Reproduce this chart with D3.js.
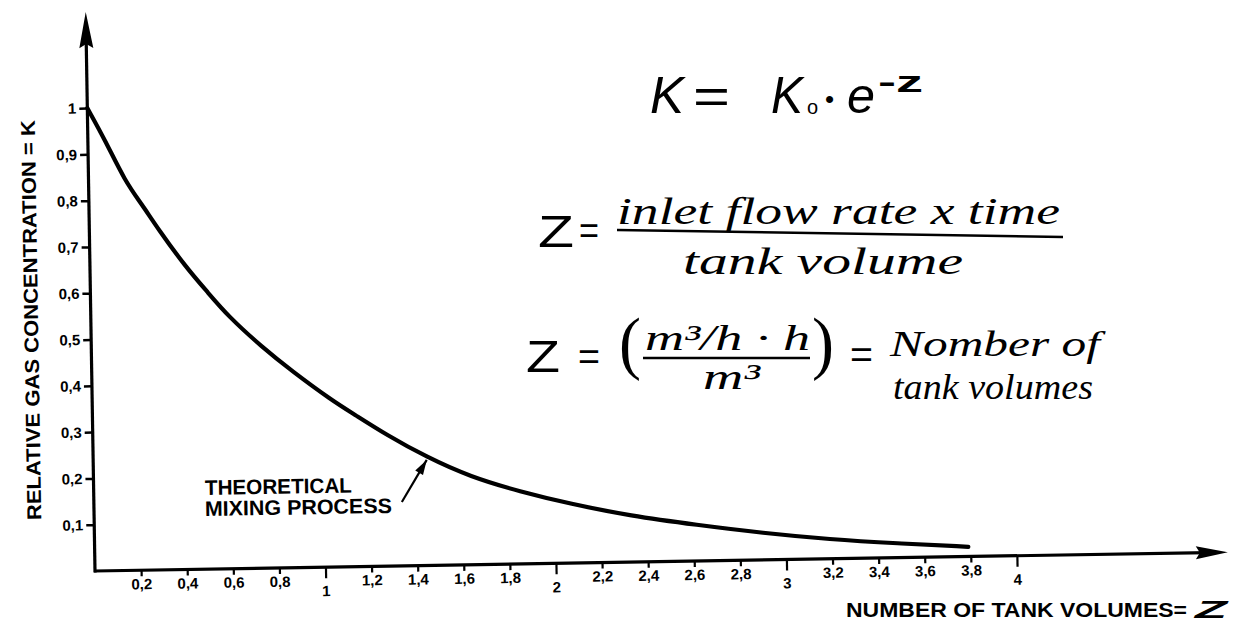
<!DOCTYPE html>
<html><head><meta charset="utf-8">
<script src="https://cdn.jsdelivr.net/npm/d3@7"></script>
<style>
html,body{margin:0;padding:0;background:#fff;}
svg{display:block;}
</style></head><body>
<svg id="chart" width="1238" height="622"></svg>
<script>
// ---- data ----
const zValues = [0, 0.075, 0.159, 0.23, 0.3, 0.413, 0.512, 0.597, 0.74, 0.868, 1.04, 1.133, 1.276, 1.447, 1.634, 1.85, 2.066, 2.326, 2.614, 2.9, 3.19, 3.48, 3.79];
const kValues = [1.0, 0.93, 0.84, 0.79, 0.735, 0.655, 0.596, 0.545, 0.478, 0.425, 0.36, 0.33, 0.283, 0.234, 0.19, 0.156, 0.128, 0.1, 0.078, 0.058, 0.042, 0.031, 0.021];
const yTicks = [0.1, 0.2, 0.3, 0.4, 0.5, 0.6, 0.7, 0.8, 0.9, 1];
const yTickLabels = ["0,1", "0,2", "0,3", "0,4", "0,5", "0,6", "0,7", "0,8", "0,9", "1"];
const xTicks = [0.2, 0.4, 0.6, 0.8, 1, 1.2, 1.4, 1.6, 1.8, 2, 2.2, 2.4, 2.6, 2.8, 3, 3.2, 3.4, 3.6, 3.8, 4];
const xTickLabels = ["0,2", "0,4", "0,6", "0,8", "1", "1,2", "1,4", "1,6", "1,8", "2", "2,2", "2,4", "2,6", "2,8", "3", "3,2", "3,4", "3,6", "3,8", "4"];
const yAxisTitle = "RELATIVE GAS CONCENTRATION = K";
const xAxisTitle = "NUMBER OF TANK VOLUMES=";
const xAxisSymbol = "Z";
const curveLabel = ["THEORETICAL", "MIXING PROCESS"];
const annotationTip = [1.447, 0.228];
const annotationTail = [1.336, 0.138];

// ---- layout ----
const svg = d3.select("#chart");
const origin = [95, 571];
const tilt = -0.95;
const x = d3.scaleLinear().domain([0, 4]).range([0, 922]);
const y = d3.scaleLinear().domain([0, 1]).range([0, -463]);
const sansB = "'Liberation Sans', Arial, sans-serif";
const hand = "'Liberation Serif', 'DejaVu Serif', serif";

const g = svg.append("g").attr("transform", `translate(${origin[0]},${origin[1]}) rotate(${tilt})`);

// y axis ticks
const yAxis = d3.axisLeft(y).tickValues(yTicks).tickSize(8).tickPadding(3)
  .tickFormat((d, i) => yTickLabels[i]);
const gy = g.append("g").call(yAxis);
gy.select(".domain").remove();
gy.selectAll(".tick line").attr("stroke", "#000").attr("stroke-width", 2.5);
gy.selectAll(".tick text").attr("fill", "#000").attr("font-family", sansB)
  .attr("font-weight", "bold").attr("font-size", 15).attr("dy", "0.33em");

// x axis ticks
const xAxis = d3.axisBottom(x).tickValues(xTicks).tickSize(6)
  .tickFormat((d, i) => xTickLabels[i]);
const gx = g.append("g").call(xAxis);
gx.select(".domain").remove();
gx.selectAll(".tick line").attr("stroke", "#000").attr("stroke-width", 2.2)
  .attr("y2", d => Number.isInteger(d) ? 11 : 6);
gx.selectAll(".tick text").attr("fill", "#000").attr("font-family", sansB)
  .attr("font-weight", "bold").attr("font-size", 15).attr("dy", 0)
  .attr("y", d => Number.isInteger(d) ? 29 : 19);

// axis lines with arrows
const xEnd = 1133, yEnd = -559;
g.append("line").attr("x1", -1).attr("y1", 0).attr("x2", xEnd - 20).attr("y2", 0)
  .attr("stroke", "#000").attr("stroke-width", 3.2);
g.append("path").attr("d", `M${xEnd},0 L${xEnd - 32},-6.5 L${xEnd - 28},0 L${xEnd - 32},6.5 Z`).attr("fill", "#000");
g.append("line").attr("x1", 0).attr("y1", 1.5).attr("x2", 0).attr("y2", yEnd + 20)
  .attr("stroke", "#000").attr("stroke-width", 3.2);
g.append("path").attr("d", `M0,${yEnd} L-7,${yEnd + 36} L0,${yEnd + 32} L7,${yEnd + 36} Z`).attr("fill", "#000");

// curve
const pts = zValues.map((z, i) => [z, kValues[i]]);
g.append("path").datum(pts)
  .attr("d", d3.line().x(d => x(d[0])).y(d => y(d[1])).curve(d3.curveBasis))
  .attr("fill", "none").attr("stroke", "#000").attr("stroke-width", 4.2)
  .attr("stroke-linecap", "round");

// annotation arrow
const tip = [x(annotationTip[0]), y(annotationTip[1])];
const tail = [x(annotationTail[0]), y(annotationTail[1])];
const ang = Math.atan2(tip[1] - tail[1], tip[0] - tail[0]);
g.append("line").attr("x1", tail[0]).attr("y1", tail[1]).attr("x2", tip[0]).attr("y2", tip[1])
  .attr("stroke", "#000").attr("stroke-width", 2.2);
g.append("path").attr("transform", `translate(${tip[0]},${tip[1]}) rotate(${ang * 180 / Math.PI})`)
  .attr("d", "M0,0 L-15,-4.5 L-15,4.5 Z").attr("fill", "#000");

// curve label
const lab = svg.append("g").attr("font-family", sansB).attr("font-weight", "bold").attr("font-size", 21).attr("fill", "#000");
lab.append("text").attr("transform", `translate(205,495) rotate(${tilt})`).attr("textLength", 147).attr("lengthAdjust", "spacingAndGlyphs").text(curveLabel[0]);
lab.append("text").attr("transform", `translate(205,516) rotate(${tilt})`).attr("textLength", 187).attr("lengthAdjust", "spacingAndGlyphs").text(curveLabel[1]);

// axis titles
svg.append("text").attr("transform", `translate(38,320) rotate(${-90 + tilt})`)
  .attr("text-anchor", "middle").attr("font-family", sansB).attr("font-weight", "bold")
  .attr("font-size", 20).attr("textLength", 400).attr("lengthAdjust", "spacingAndGlyphs")
  .text(yAxisTitle);
svg.append("text").attr("x", 846).attr("y", 617).attr("font-family", sansB).attr("font-weight", "bold")
  .attr("font-size", 20).attr("textLength", 341).attr("lengthAdjust", "spacingAndGlyphs")
  .text(xAxisTitle);
svg.append("text").attr("x", 1195).attr("y", 618).attr("font-family", sansB).attr("font-weight", "bold")
  .attr("font-style", "italic").attr("font-size", 23).attr("textLength", 32).attr("lengthAdjust", "spacingAndGlyphs")
  .text(xAxisSymbol);

// ---- handwritten formulas ----
const f = svg.append("g").attr("fill", "#000");
function t(str, px, py, size, opts = {}) {
  const el = f.append("text").attr("x", px).attr("y", py).attr("font-size", size)
    .attr("font-family", opts.family || hand)
    .attr("font-style", opts.style || "italic")
    .attr("font-weight", opts.weight || "normal")
    .text(str);
  if (opts.len) el.attr("textLength", opts.len).attr("lengthAdjust", "spacingAndGlyphs");
  return el;
}
const plain = { family: "'Liberation Sans', Arial, sans-serif", style: "italic" };
// K = K0 . e^-z
t("K", 650, 113, 52, { ...plain, len: 34 });
t("=", 693, 113, 50, { ...plain, style: "normal", len: 37 });
t("K", 771, 113, 52, { ...plain, len: 32 });
t("o", 807, 114, 20, { ...plain, style: "normal" });
t("•", 825, 108, 26, { ...plain, style: "normal" });
t("e", 847, 113, 50, { ...plain, len: 28 });
t("-z", 878, 92, 30, { ...plain, style: "normal", weight: "bold", len: 45 });
// Z = inlet flow rate x time / tank volume
t("Z", 538, 247, 44, { ...plain, style: "normal", len: 36 });
t("=", 579, 244, 38, { ...plain, style: "normal", len: 20 });
t("inlet flow rate x time", 617, 224, 38, { len: 443 });
f.append("line").attr("x1", 617).attr("y1", 230).attr("x2", 1063).attr("y2", 237)
  .attr("stroke", "#000").attr("stroke-width", 2.5);
t("tank volume", 683, 274, 38, { len: 280 });
// Z = (m3/h . h / m3) = Nomber of tank volumes
t("Z", 526, 372, 44, { ...plain, style: "normal", len: 34 });
t("=", 578, 370, 38, { ...plain, style: "normal", len: 22 });
t("(", 619, 366, 70, { style: "normal", len: 22 });
t("m³/h · h", 645, 350, 36, { len: 165 });
f.append("line").attr("x1", 643).attr("y1", 358).attr("x2", 810).attr("y2", 358)
  .attr("stroke", "#000").attr("stroke-width", 2.5);
t("m³", 703, 389, 36, { len: 57 });
t(")", 812, 366, 70, { style: "normal", len: 22 });
t("=", 850, 368, 38, { ...plain, style: "normal", len: 23 });
t("Nomber of", 890, 356, 36, { len: 210 });
t("tank volumes", 893, 399, 36, { len: 200 });
</script>
</body></html>
